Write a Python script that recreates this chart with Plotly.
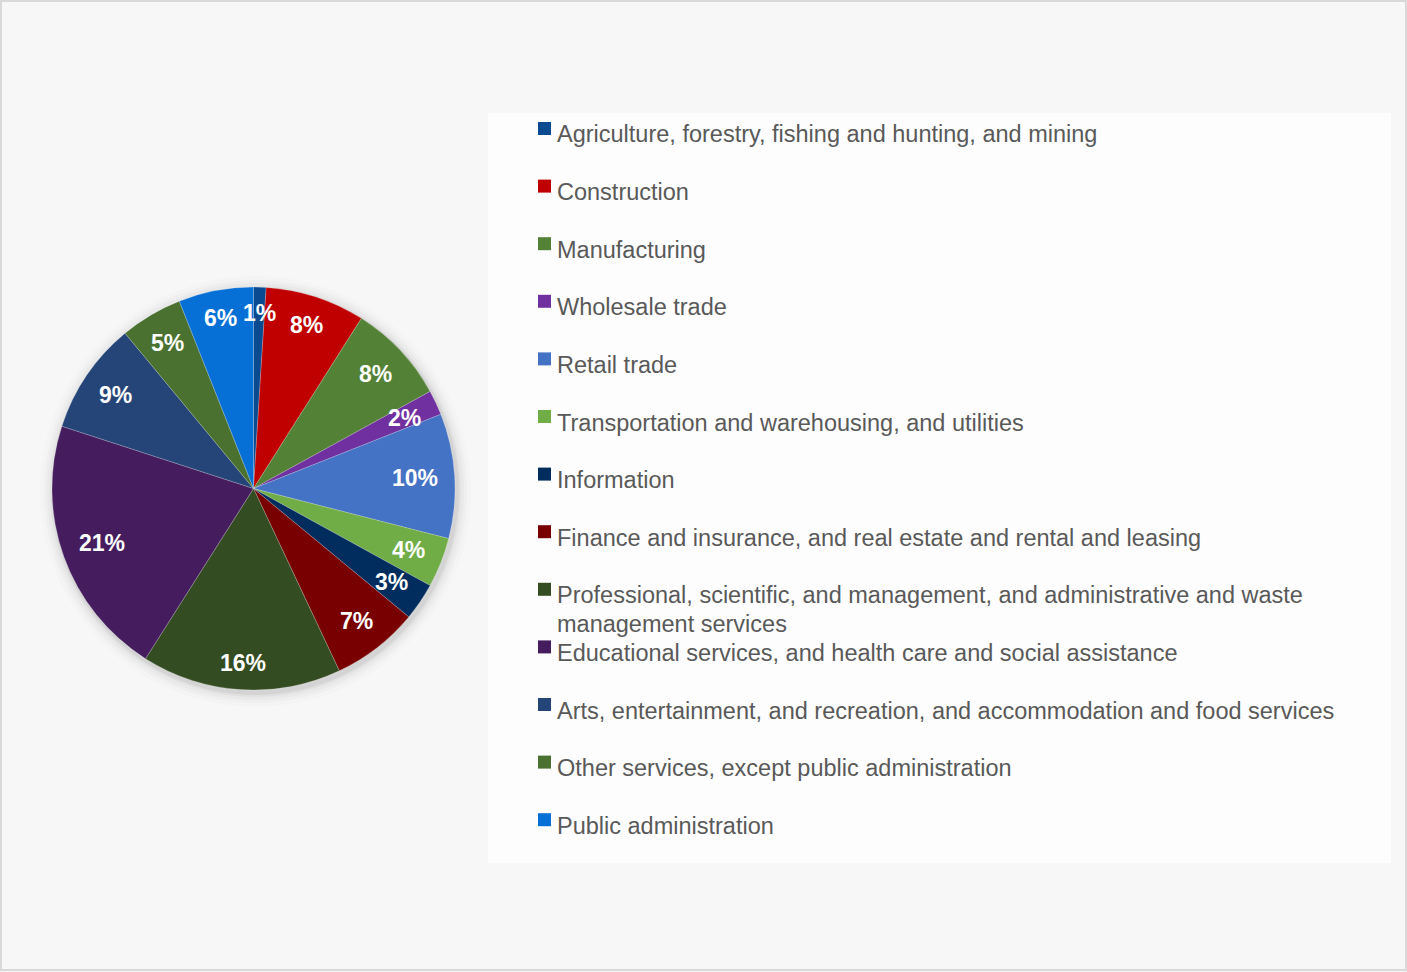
import math
import plotly.graph_objects as go

# Share of employment by industry (percent)
industries = [
    "Agriculture, forestry, fishing and hunting, and mining",
    "Construction",
    "Manufacturing",
    "Wholesale trade",
    "Retail trade",
    "Transportation and warehousing, and utilities",
    "Information",
    "Finance and insurance, and real estate and rental and leasing",
    "Professional, scientific, and management, and administrative and waste<br>management services",
    "Educational services, and health care and social assistance",
    "Arts, entertainment, and recreation, and accommodation and food services",
    "Other services, except public administration",
    "Public administration",
]
shares = [1, 8, 8, 2, 10, 4, 3, 7, 16, 21, 9, 5, 6]
colors = [
    "#0A4A91", "#C00000", "#538135", "#7030A0", "#4472C4", "#70AD47",
    "#002D5D", "#780000", "#344C21", "#451D5E", "#254579", "#4A712F",
    "#0670D6",
]

W, H = 1407, 972
FONT = "Liberation Sans, Arial, sans-serif"

# pie placement (pixels)
cx, cy, R = 253.5, 488.5, 201.5


def px(x):
    return x / W


def py(y):
    return 1 - y / H


fig = go.Figure()
fig.add_trace(go.Pie(
    labels=[s.replace("<br>", " ") for s in industries],
    values=shares,
    sort=False,
    direction="clockwise",
    rotation=0,
    marker=dict(colors=colors, line=dict(color="rgba(255,255,255,0.35)", width=0.6)),
    textinfo="none",
    hoverinfo="label+percent",
    showlegend=False,
    domain=dict(x=[px(cx - R), px(cx + R)], y=[py(cy + R), py(cy - R)]),
))

shapes = []
# outer frame
shapes.append(dict(type="rect", xref="paper", yref="paper",
                   x0=px(1), x1=px(1406), y0=py(970), y1=py(1),
                   line=dict(color="#d9d9d9", width=2), fillcolor="rgba(0,0,0,0)", layer="below"))
# legend panel
shapes.append(dict(type="rect", xref="paper", yref="paper",
                   x0=px(488), x1=px(1391), y0=py(863), y1=py(113),
                   line=dict(width=0), fillcolor="#fdfdfd", layer="below"))
# soft shadow around the pie
for grow, alpha in [(14, 0.012), (10, 0.018), (7, 0.025), (4, 0.035), (2, 0.05)]:
    shapes.append(dict(type="circle", xref="paper", yref="paper",
                       x0=px(cx - R - grow + 2), x1=px(cx + R + grow + 2),
                       y0=py(cy + R + grow + 3), y1=py(cy - R - grow + 3),
                       line=dict(width=0), fillcolor=f"rgba(0,0,0,{alpha})", layer="below"))

annotations = []

# percentage labels: placed inside each slice, near the rim, at the slice's mid angle
label_size = 23
total = sum(shares)
cum = 0
for v in shares:
    mid = (cum + v / 2) / total * 2 * math.pi
    cum += v
    text = f"{v}%"
    em = sum(0.889 if ch == "%" else 0.556 for ch in text)
    hw, hh = em * label_size / 2, 9
    d = R - 16 - (abs(math.sin(mid)) * hw + abs(math.cos(mid)) * hh)
    annotations.append(dict(
        xref="paper", yref="paper",
        x=px(cx + d * math.sin(mid)), y=py(cy - d * math.cos(mid)),
        xanchor="center", yanchor="middle", showarrow=False, text=f"<b>{text}</b>",
        font=dict(family=FONT, size=label_size, color="white"),
    ))

# legend entries (square key + label; wrapped labels continue on a tighter line pitch)
row_y0, row_gap, line_gap = 132.5, 57.6, 28.5
for i, (name, col) in enumerate(zip(industries, colors)):
    yc = row_y0 + i * row_gap
    shapes.append(dict(type="rect", xref="paper", yref="paper",
                       x0=px(538), x1=px(551), y0=py(yc + 2.5), y1=py(yc - 10.5),
                       line=dict(width=0), fillcolor=col))
    for j, line in enumerate(name.split("<br>")):
        annotations.append(dict(
            xref="paper", yref="paper", x=px(555), y=py(yc - 13 + j * line_gap),
            xanchor="left", yanchor="top", align="left", showarrow=False,
            text=line,
            font=dict(family=FONT, size=23.5, color="#595959"),
        ))

fig.update_layout(
    width=W, height=H,
    margin=dict(l=0, r=0, t=0, b=0),
    paper_bgcolor="#f7f7f7",
    plot_bgcolor="#f7f7f7",
    shapes=shapes,
    annotations=annotations,
)

fig.write_html("out.html")
